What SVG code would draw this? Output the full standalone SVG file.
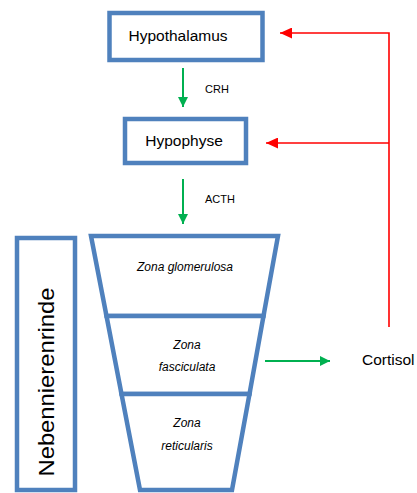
<svg xmlns="http://www.w3.org/2000/svg" width="417" height="493" viewBox="0 0 417 493">
<style>
.box{fill:#fff;stroke:#4F81BD;stroke-width:4.5}
.lbl{font-family:"Liberation Sans",Arial,sans-serif;fill:#000}
.zone{font-family:"Liberation Sans",Arial,sans-serif;font-style:italic;font-size:12px;fill:#000;text-anchor:middle}
.g{stroke:#00B050;stroke-width:2;fill:none}
.r{stroke:#FF0000;stroke-width:1.6;fill:none}
</style>
<defs>
<marker id="ag" markerWidth="10" markerHeight="10" refX="10" refY="5" orient="auto" markerUnits="userSpaceOnUse"><path d="M0,0 L10,5 L0,10 Z" fill="#00B050"/></marker>
<marker id="ar" markerWidth="12" markerHeight="11" refX="12" refY="5.5" orient="auto" markerUnits="userSpaceOnUse"><path d="M0,0 L12,5.5 L0,11 Z" fill="#FF0000"/></marker>
</defs>
<rect width="417" height="493" fill="#fff"/>
<g id="hypothalamus">
<rect class="box" x="109.5" y="13" width="153" height="47"/>
<text class="lbl" x="178" y="41" font-size="15.5" text-anchor="middle">Hypothalamus</text>
</g>
<g id="hypophyse">
<rect class="box" x="125" y="119" width="121" height="44"/>
<text class="lbl" x="184" y="146" font-size="15.5" text-anchor="middle">Hypophyse</text>
</g>
<g id="nebennierenrinde">
<rect class="box" x="17" y="238" width="58" height="252"/>
<text class="lbl" transform="translate(54,382) rotate(-90)" font-size="22" text-anchor="middle" textLength="189" lengthAdjust="spacingAndGlyphs">Nebennierenrinde</text>
</g>
<g id="zona-glomerulosa">
<polygon class="box" points="91,236 278,236 263.5,316 106.5,316"/>
<text class="zone" x="185" y="271">Zona glomerulosa</text>
</g>
<g id="zona-fasciculata">
<polygon class="box" points="106.5,316 263.5,316 249.5,394 121.5,394"/>
<text class="zone" x="187" y="349">Zona</text>
<text class="zone" x="187" y="371">fasciculata</text>
</g>
<g id="zona-reticularis">
<polygon class="box" points="121.5,394 249.5,394 232,490 140,490"/>
<text class="zone" x="187" y="427">Zona</text>
<text class="zone" x="187" y="450">reticularis</text>
</g>
<g id="cortisol">
<text class="lbl" x="362" y="365" font-size="15.5">Cortisol</text>
</g>
<g id="connectors">
<line class="g" x1="183" y1="68" x2="183" y2="107" marker-end="url(#ag)"/>
<text class="lbl" x="205" y="93" font-size="11">CRH</text>
<line class="g" x1="183" y1="179" x2="183" y2="224" marker-end="url(#ag)"/>
<text class="lbl" x="205" y="203" font-size="11">ACTH</text>
<line class="g" x1="265" y1="361" x2="330" y2="361" marker-end="url(#ag)"/>
<polyline class="r" points="389,327 389,33 280,33" marker-end="url(#ar)"/>
<line class="r" x1="389" y1="143" x2="266" y2="143" marker-end="url(#ar)"/>
</g>
</svg>
